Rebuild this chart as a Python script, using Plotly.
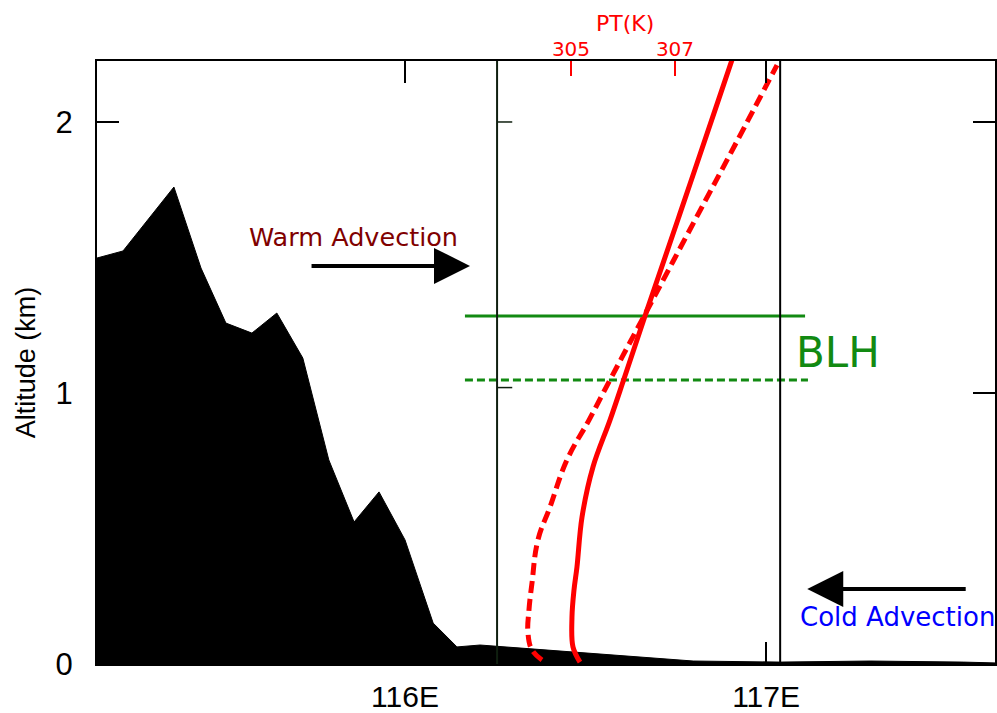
import plotly.graph_objects as go

# Terrain cross-section (longitude in degrees E, altitude in km)
terrain_lon = [115.147, 115.219, 115.360, 115.435, 115.504, 115.576, 115.645,
               115.717, 115.789, 115.859, 115.928, 116.000, 116.078, 116.144,
               116.208, 116.798, 117.039, 117.288, 117.546, 117.634]
terrain_alt = [1.498, 1.524, 1.760, 1.461, 1.258, 1.221, 1.295,
               1.129, 0.753, 0.524, 0.635, 0.458, 0.151, 0.063,
               0.070, 0.011, 0.007, 0.011, 0.007, 0.004]

# Potential temperature profiles (K) against altitude (km)
pt_solid = [305.173, 305.038, 305.019, 305.058, 305.115, 305.212, 305.423, 305.750,
            306.012, 306.462, 307.087, 307.804, 308.096]
alt_solid = [0.007, 0.063, 0.173, 0.273, 0.358, 0.542, 0.727, 0.900,
             1.048, 1.306, 1.657, 2.063, 2.229]

pt_dash = [304.442, 304.250, 304.173, 304.192, 304.250, 304.365, 304.596, 304.923,
           305.346, 305.750, 306.538, 307.365, 308.154, 308.962]
alt_dash = [0.015, 0.052, 0.114, 0.199, 0.299, 0.458, 0.579, 0.753,
            0.900, 1.048, 1.332, 1.631, 1.915, 2.210]

# Boundary layer heights (km)
blh_solid = 1.284
blh_dash = 1.048
blh_lon_solid = [116.166, 117.108]
blh_lon_dash = [116.166, 117.116]

# Profile column edges (longitude)
column_lon = [116.255, 117.039]

x_ticks = [116, 117]
x_ticktext = ["116E", "117E"]
y_ticks = [0, 1, 2]
pt_ticks = [305, 307]

SANS = "Liberation Sans, Arial, sans-serif"
DEJAVU = "DejaVu Sans, sans-serif"
GREEN = "#128a12"
RED = "#ff0000"

fig = go.Figure()

fig.add_trace(go.Scatter(
    x=terrain_lon, y=terrain_alt, mode="lines", fill="tozeroy",
    fillcolor="black", line=dict(color="black", width=1), showlegend=False,
    hoverinfo="skip"))

fig.add_trace(go.Scatter(
    x=blh_lon_solid, y=[blh_solid, blh_solid], mode="lines",
    line=dict(color=GREEN, width=3), showlegend=False))
fig.add_trace(go.Scatter(
    x=blh_lon_dash, y=[blh_dash, blh_dash], mode="lines",
    line=dict(color=GREEN, width=3, dash="8px,4px"), showlegend=False))

fig.add_trace(go.Scatter(
    x=pt_solid, y=alt_solid, xaxis="x2", yaxis="y", mode="lines",
    line=dict(color=RED, width=5, shape="spline", smoothing=1.0),
    showlegend=False))
fig.add_trace(go.Scatter(
    x=pt_dash, y=alt_dash, xaxis="x2", yaxis="y", mode="lines",
    line=dict(color=RED, width=5, dash="12px,6px", shape="spline", smoothing=1.2),
    showlegend=False))

# Column edges and their inner ticks
shapes = []
for lon, col in zip(column_lon, ["#0f1f0f", "black"]):
    shapes.append(dict(type="line", xref="x", yref="paper", x0=lon, x1=lon,
                       y0=0, y1=1, line=dict(color=col, width=2)))
for yv in [2.0, 1.02]:
    shapes.append(dict(type="line", xref="x", yref="y", x0=column_lon[0],
                       x1=column_lon[0] + 0.042, y0=yv, y1=yv,
                       line=dict(color="#0f1f0f", width=1.5)))

annotations = [
    dict(x=116.180, y=1.469, ax=115.737, ay=1.469, xref="x", yref="y",
         axref="x", ayref="y", text="", showarrow=True, arrowhead=2,
         arrowwidth=4, arrowsize=1.8, arrowcolor="black"),
    dict(x=117.114, y=0.277, ax=117.557, ay=0.277, xref="x", yref="y",
         axref="x", ayref="y", text="", showarrow=True, arrowhead=2,
         arrowwidth=4, arrowsize=1.8, arrowcolor="black"),
    dict(x=115.856, y=1.576, xref="x", yref="y", text="Warm Advection",
         showarrow=False, font=dict(family=DEJAVU, size=25.5, color="#800000")),
    dict(x=117.363, y=0.173, xref="x", yref="y", text="Cold Advection",
         showarrow=False, font=dict(family=DEJAVU, size=26, color="#0000ff")),
    dict(x=117.199, y=1.151, xref="x", yref="y", text="BLH",
         showarrow=False, font=dict(family=DEJAVU, size=42, color=GREEN)),
    dict(x=306.04, y=1.063, xref="x2", yref="paper", text="PT(K)",
         xanchor="center", yanchor="middle",
         showarrow=False, font=dict(family=DEJAVU, size=22, color=RED)),
]

fig.update_layout(
    width=997, height=713, autosize=False,
    margin=dict(l=97, r=2, t=61, b=49),
    paper_bgcolor="white", plot_bgcolor="white",
    shapes=shapes, annotations=annotations,
    xaxis=dict(range=[115.147, 117.634], tickvals=x_ticks, ticktext=x_ticktext,
               ticks="inside", ticklen=22, tickwidth=1.5, tickcolor="black",
               showline=True, linecolor="black", linewidth=2, mirror="ticks",
               showgrid=False, zeroline=False, ticklabelstandoff=5,
               automargin=False,
               tickfont=dict(family=SANS, size=30, color="black")),
    yaxis=dict(range=[0, 2.225], tickvals=y_ticks,
               ticks="inside", ticklen=22, tickwidth=1.5, tickcolor="black",
               showline=True, linecolor="black", linewidth=2, mirror="ticks",
               showgrid=False, zeroline=False, ticklabelstandoff=16,
               automargin=False,
               tickfont=dict(family=SANS, size=31, color="black"),
               title=dict(text="Altitude (km)", standoff=12,
                          font=dict(family=SANS, size=27, color="black"))),
    xaxis2=dict(overlaying="x", side="top", anchor="y",
                range=[295.885, 313.154], tickvals=pt_ticks,
                ticks="inside", ticklen=15, tickwidth=1.5, tickcolor=RED,
                showline=False, showgrid=False, zeroline=False,
                automargin=False,
                tickfont=dict(family=DEJAVU, size=20, color=RED)),
)

fig.write_html("out.html")
